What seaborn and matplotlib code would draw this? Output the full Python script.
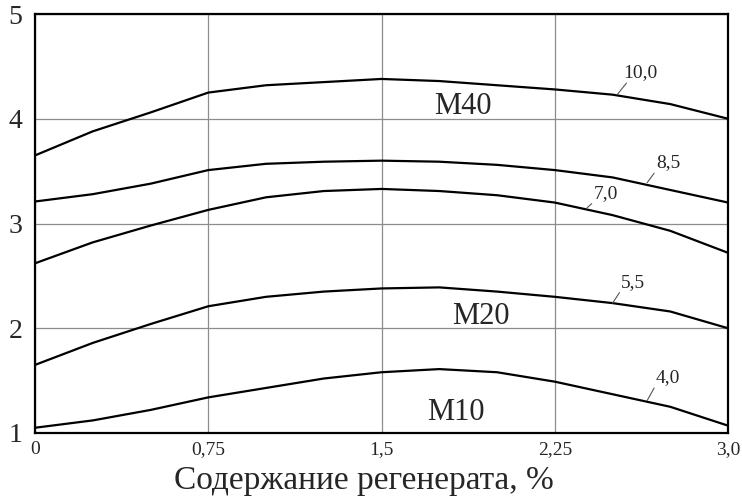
import pandas as pd
import matplotlib.pyplot as plt
import seaborn as sns

# --- data ---
x_vals = [0, 0.25, 0.5, 0.75, 1.0, 1.25, 1.5, 1.75, 2.0, 2.25, 2.5, 2.75, 3.0]
curve_10_0 = [3.65, 3.88, 4.06, 4.25, 4.32, 4.35, 4.38, 4.36, 4.32, 4.28, 4.23, 4.14, 4.00]
curve_8_5 = [3.21, 3.28, 3.38, 3.51, 3.57, 3.59, 3.60, 3.59, 3.56, 3.51, 3.44, 3.32, 3.20]
curve_7_0 = [2.62, 2.82, 2.98, 3.13, 3.25, 3.31, 3.33, 3.31, 3.27, 3.20, 3.08, 2.93, 2.72]
curve_5_5 = [1.65, 1.86, 2.04, 2.21, 2.30, 2.35, 2.38, 2.39, 2.35, 2.30, 2.24, 2.16, 2.00]
curve_4_0 = [1.05, 1.12, 1.22, 1.34, 1.43, 1.52, 1.58, 1.61, 1.58, 1.49, 1.37, 1.25, 1.07]

series_names = ['10,0', '8,5', '7,0', '5,5', '4,0']
series_values = [curve_10_0, curve_8_5, curve_7_0, curve_5_5, curve_4_0]

# curve label: (text x, text y, curve point x, curve point y)
label_pos = {
    '10,0': (2.62, 4.44, 2.52, 4.23),
    '8,5': (2.74, 3.58, 2.65, 3.39),
    '7,0': (2.47, 3.29, 2.39, 3.15),
    '5,5': (2.59, 2.44, 2.50, 2.24),
    '4,0': (2.74, 1.53, 2.65, 1.31),
}
grade_labels = ['M40', 'M20', 'M10']
grade_pos = [(1.85, 4.12), (1.93, 2.11), (1.82, 1.20)]

x_ticks = [0, 0.75, 1.5, 2.25, 3.0]
x_tick_labels = ['0', '0,75', '1,5', '2,25', '3,0']
y_ticks = [1, 2, 3, 4, 5]

rows = []
for name, vals in zip(series_names, series_values):
    for xv, yv in zip(x_vals, vals):
        rows.append({'x': xv, 'y': yv, 'series': name})
df = pd.DataFrame(rows)

sns.set_style('white')
plt.rcParams['font.family'] = ['Liberation Serif', 'DejaVu Serif']

fig = plt.figure(figsize=(7.42, 4.97), dpi=100)
ax = fig.add_axes([0.0472, 0.1288, 0.9340, 0.8430])

sns.lineplot(data=df, x='x', y='y', units='series', estimator=None,
             color='black', linewidth=1.6, ax=ax)

for name, (tx, ty, cx, cy) in label_pos.items():
    ax.plot([cx, tx - 0.06], [cy, ty - 0.1], color='#555555', linewidth=0.8)
    ax.text(tx, ty, name, fontsize=14, ha='center', va='center')

for g, (gx, gy) in zip(grade_labels, grade_pos):
    ax.text(gx, gy, g, fontsize=22, ha='center', va='center')

ax.set_xlim(0, 3.0)
ax.set_ylim(1, 5)
ax.set_xticks(x_ticks)
ax.set_xticklabels(x_tick_labels, fontsize=14)
ax.set_yticks(y_ticks)
ax.tick_params(axis='y', labelsize=20, length=0, pad=9)
ax.tick_params(axis='x', length=0, pad=6)
ax.grid(True, color='#8c8c8c', linewidth=0.9)
for s in ax.spines.values():
    s.set_color('black')
    s.set_linewidth(1.6)

ax.set_xlabel('Содержание регенерата, %', fontsize=24)
ax.set_ylabel('')
ax.xaxis.set_label_coords(0.475, -0.077)

fig.savefig('out.png', dpi=100)
